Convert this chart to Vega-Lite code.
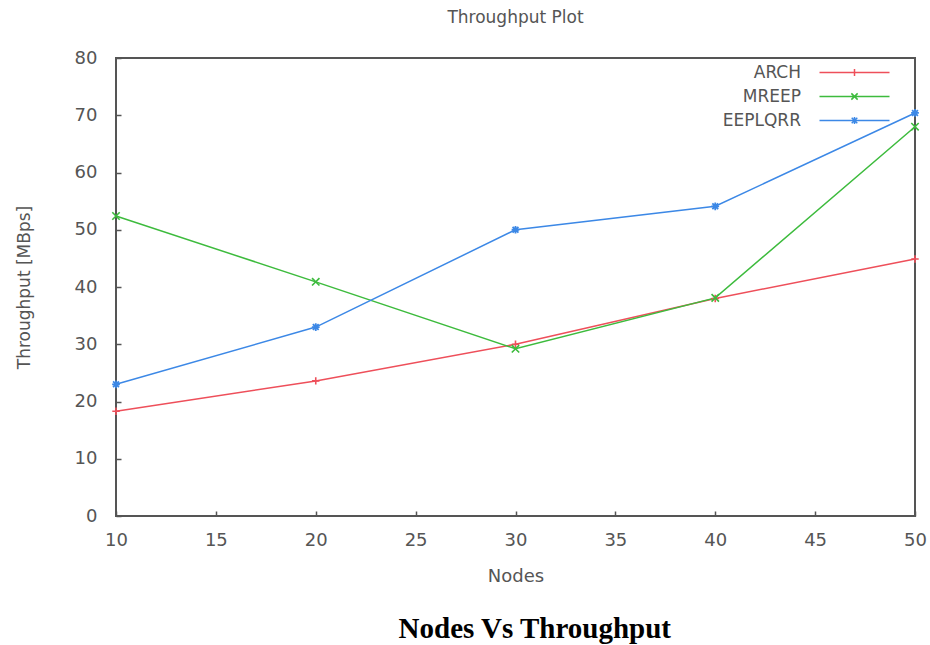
{
  "$schema": "https://vega.github.io/schema/vega-lite/v6.json",
  "background": "white",
  "padding": {"left": 14, "top": 8, "right": 10, "bottom": 5},
  "datasets": {
    "tp": [
      {"nodes": 10, "series": "ARCH", "throughput": 18.3},
      {"nodes": 20, "series": "ARCH", "throughput": 23.6},
      {"nodes": 30, "series": "ARCH", "throughput": 30.0},
      {"nodes": 40, "series": "ARCH", "throughput": 38.0},
      {"nodes": 50, "series": "ARCH", "throughput": 44.9},
      {"nodes": 10, "series": "MREEP", "throughput": 52.4},
      {"nodes": 20, "series": "MREEP", "throughput": 40.9},
      {"nodes": 30, "series": "MREEP", "throughput": 29.2},
      {"nodes": 40, "series": "MREEP", "throughput": 38.1},
      {"nodes": 50, "series": "MREEP", "throughput": 68.0},
      {"nodes": 10, "series": "EEPLQRR", "throughput": 23.0},
      {"nodes": 20, "series": "EEPLQRR", "throughput": 33.0},
      {"nodes": 30, "series": "EEPLQRR", "throughput": 50.0},
      {"nodes": 40, "series": "EEPLQRR", "throughput": 54.1},
      {"nodes": 50, "series": "EEPLQRR", "throughput": 70.4}
    ]
  },
  "title": {
    "text": "Nodes Vs Throughput",
    "orient": "bottom",
    "anchor": "middle",
    "font": "Liberation Serif",
    "fontWeight": "bold",
    "fontSize": 29,
    "color": "#000000",
    "offset": 29,
    "dx": 64
  },
  "vconcat": [
    {
      "width": 799,
      "height": 458,
      "title": {
        "text": "Throughput Plot",
        "anchor": "middle",
        "font": "DejaVu Sans",
        "fontWeight": "normal",
        "fontSize": 17,
        "color": "#555555",
        "offset": 22
      },
      "data": {"name": "tp"},
      "encoding": {
        "x": {
          "field": "nodes", "type": "quantitative",
          "scale": {"domain": [10, 50], "nice": false, "zero": false},
          "axis": {
            "orient": "bottom", "title": "Nodes", "values": [10, 15, 20, 25, 30, 35, 40, 45, 50],
            "tickSize": -5, "labelPadding": 20, "titlePadding": 18, "labelFlush": false, "titleFontSize": 18
          }
        },
        "y": {
          "field": "throughput", "type": "quantitative",
          "scale": {"domain": [0, 80], "nice": false},
          "axis": {
            "orient": "left", "title": "Throughput [MBps]", "values": [0, 10, 20, 30, 40, 50, 60, 70, 80],
            "tickSize": -5, "labelPadding": 24, "titlePadding": 41, "labelFlush": false
          }
        }
      },
      "layer": [
        {
          "mark": {"type": "line", "strokeWidth": 1.5},
          "encoding": {
            "color": {
              "field": "series", "type": "nominal",
              "scale": {"domain": ["ARCH", "MREEP", "EEPLQRR"], "range": ["#ee4f5a", "#3dbb3d", "#3c88e6"]},
              "legend": {
                "title": null,
                "orient": "none",
                "legendX": 730,
                "legendY": 6,
                "padding": 0,
                "symbolSize": 196,
                "symbolStrokeWidth": 1.5,
                "labelAlign": "right",
                "labelOffset": -62,
                "labelFont": "DejaVu Sans",
                "labelFontSize": 17,
                "labelColor": "#555555",
                "rowPadding": 6,
                "encode": {
                  "symbols": {
                    "update": {
                      "shape": {"signal": "datum.value === 'ARCH' ? 'M-5,0H5M0,-0.5V0.5' : datum.value === 'MREEP' ? 'M-5,0H5M-0.45,-0.45L0.45,0.45M-0.45,0.45L0.45,-0.45' : 'M-5,0H5M0,-0.5V0.5M-0.4,-0.4L0.4,0.4M-0.4,0.4L0.4,-0.4'"},
                      "fill": {"value": "transparent"}
                    }
                  }
                }
              }
            }
          }
        },
        {
          "transform": [{"filter": "datum.series === 'ARCH'"}],
          "mark": {"type": "point", "filled": false, "strokeWidth": 1.6, "size": 55, "opacity": 1, "shape": "M-1,0H1M0,-1V1"},
          "encoding": {
            "color": {"field": "series", "type": "nominal", "legend": null}
          }
        },
        {
          "transform": [{"filter": "datum.series === 'MREEP'"}],
          "mark": {"type": "point", "filled": false, "strokeWidth": 1.6, "size": 55, "opacity": 1, "shape": "M-1,-1L1,1M-1,1L1,-1"},
          "encoding": {
            "color": {"field": "series", "type": "nominal", "legend": null}
          }
        },
        {
          "transform": [{"filter": "datum.series === 'EEPLQRR'"}],
          "mark": {"type": "point", "filled": false, "strokeWidth": 1.8, "size": 60, "opacity": 1, "shape": "M-1,0H1M0,-1V1M-0.75,-0.75L0.75,0.75M-0.75,0.75L0.75,-0.75"},
          "encoding": {
            "color": {"field": "series", "type": "nominal", "legend": null}
          }
        }
      ]
    }
  ],
  "config": {
    "view": {"stroke": "#555555", "strokeWidth": 2},
    "axis": {
      "grid": false,
      "domain": false,
      "tickColor": "#555555",
      "tickWidth": 1.5,
      "labelFont": "DejaVu Sans",
      "labelFontSize": 18,
      "labelColor": "#555555",
      "titleFont": "DejaVu Sans",
      "titleFontSize": 17,
      "titleFontWeight": "normal",
      "titleColor": "#555555"
    }
  }
}
